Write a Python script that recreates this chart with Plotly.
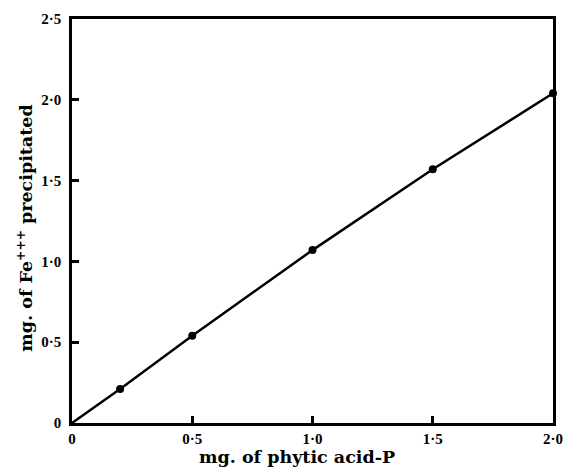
import plotly.graph_objects as go

phytic_p = [0.2, 0.5, 1.0, 1.5, 2.0]
fe_precip = [0.21, 0.54, 1.07, 1.57, 2.04]
origin = [0.0]
x_ticks = [0, 0.5, 1.0, 1.5, 2.0]
x_ticklabels = ["0", "0·5", "1·0", "1·5", "2·0"]
y_ticks = [0, 0.5, 1.0, 1.5, 2.0, 2.5]
y_ticklabels = ["0", "0·5", "1·0", "1·5", "2·0", "2·5"]
x_title = "mg. of phytic acid-P"
y_title = "mg. of Fe<sup>+++</sup> precipitated"

fig = go.Figure()
fig.add_trace(go.Scatter(x=origin + phytic_p, y=origin + fe_precip, mode="lines",
                         line=dict(color="black", width=2.5), showlegend=False,
                         cliponaxis=False))
fig.add_trace(go.Scatter(x=phytic_p, y=fe_precip, mode="markers",
                         marker=dict(color="black", size=8), showlegend=False,
                         cliponaxis=False))

tick_font = dict(family="Liberation Serif, serif", color="black", size=15, weight="bold")
title_font = dict(family="DejaVu Serif, serif", color="black", size=17.5)
fig.update_layout(
    width=567, height=468,
    margin=dict(l=72, r=14, t=19, b=45, autoexpand=False),
    paper_bgcolor="white", plot_bgcolor="white",
    font=tick_font,
)
fig.update_xaxes(
    range=[0, 2.0], tickvals=x_ticks, ticktext=x_ticklabels, automargin=False,
    showgrid=False, zeroline=False, showline=True, linecolor="black", linewidth=2.5,
    mirror=True, ticks="inside", ticklen=7, tickwidth=2.5, tickcolor="black",
    tickfont=tick_font, ticklabelstandoff=0,
)
fig.update_yaxes(
    range=[0, 2.5], tickvals=y_ticks, ticktext=y_ticklabels, automargin=False,
    showgrid=False, zeroline=False, showline=True, linecolor="black", linewidth=2.5,
    mirror=True, ticks="inside", ticklen=7, tickwidth=2.5, tickcolor="black",
    tickfont=tick_font, ticklabelstandoff=5,
)
fig.add_annotation(text="<b>" + x_title + "</b>", xref="paper", yref="paper",
                   x=0.468, y=-0.112, xanchor="center", yanchor="bottom",
                   borderpad=0, showarrow=False, font=title_font)
fig.add_annotation(text="<b>" + y_title + "</b>", xref="paper", yref="paper",
                   x=-0.098, y=0.483, xanchor="center", yanchor="middle",
                   textangle=-90, showarrow=False, font=title_font)
fig.write_html("out.html", config={"displayModeBar": False},
               post_script="document.body.style.margin='0';document.body.style.overflow='hidden';")
